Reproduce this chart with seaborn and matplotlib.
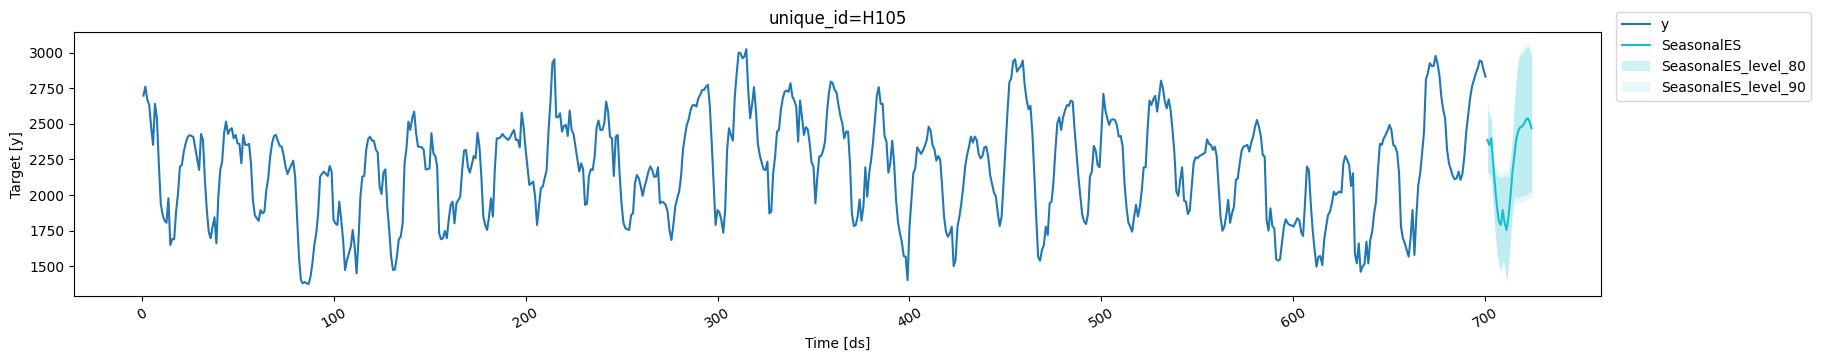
import numpy as np
import pandas as pd
import matplotlib
matplotlib.use('Agg')
import matplotlib.pyplot as plt
import seaborn as sns

# history of series H105 (ds = 1..700)
y_values = [
    2698, 2761, 2668, 2632, 2480, 2352, 2640, 2539, 2223, 1942,
    1860, 1820, 1806, 1977, 1650, 1692, 1690, 1884, 2012, 2200,
    2211, 2305, 2363, 2406, 2420, 2415, 2406, 2328, 2246, 2176,
    2429, 2387, 2106, 1895, 1743, 1697, 1778, 1844, 1661, 1989,
    2176, 2235, 2434, 2515, 2429, 2457, 2469, 2398, 2422, 2363,
    2359, 2223, 2422, 2352, 2352, 2359, 2223, 1966, 1860, 1837,
    1820, 1895, 1872, 1884, 2036, 2118, 2270, 2363, 2415, 2422,
    2380, 2345, 2340, 2281, 2200, 2148, 2181, 2210, 2242, 2129,
    1849, 1568, 1404, 1381, 1390, 1381, 1376, 1427, 1521, 1650,
    1732, 1872, 2129, 2150, 2165, 2148, 2134, 2204, 2165, 1825,
    1802, 1790, 1954, 1825, 1685, 1474, 1544, 1591, 1638, 1755,
    1638, 1451, 1685, 1989, 2129, 2134, 2317, 2391, 2410, 2382,
    2382, 2321, 2298, 2059, 2008, 2157, 2181, 1919, 1755, 1568,
    1474, 1479, 1568, 1690, 1708, 1802, 2223, 2328, 2515, 2457,
    2539, 2586, 2434, 2340, 2338, 2335, 2317, 2181, 2181, 2188,
    2434, 2293, 2274, 2200, 1732, 1690, 1697, 1748, 1697, 1825,
    1931, 1954, 1802, 1942, 1966, 1989, 2176, 2312, 2317, 2200,
    2157, 2211, 2274, 2258, 2438, 2340, 2129, 1849, 1790, 1755,
    1849, 1977, 1849, 2176, 2398, 2398, 2406, 2429, 2410, 2398,
    2387, 2406, 2434, 2457, 2387, 2387, 2335, 2579, 2480, 2328,
    2200, 2071, 2083, 2094, 1989, 1790, 1919, 2048, 2059, 2120,
    2176, 2457, 2656, 2925, 2953, 2546, 2546, 2574, 2445, 2485,
    2492, 2415, 2593, 2457, 2429, 2340, 2246, 2165, 2223, 2181,
    1931, 1938, 2129, 2181, 2176, 2270, 2469, 2523, 2457, 2457,
    2499, 2656, 2586, 2410, 2398, 2134, 2410, 2422, 2153, 1942,
    1806, 1767, 1760, 1755, 1860, 1872, 2083, 2141, 2118, 2064,
    1994, 2059, 2106, 2165, 2200, 2176, 2129, 2129, 2195, 1942,
    1954, 1947, 1931, 1884, 1755, 1685, 1790, 1919, 1977, 2024,
    2129, 2317, 2410, 2492, 2532, 2597, 2630, 2632, 2621, 2679,
    2703, 2738, 2738, 2760, 2773, 2621, 2363, 2083, 1790, 1895,
    1877, 1825, 1736, 1895, 2317, 2469, 2422, 2382, 2691, 2855,
    3000, 2995, 2960, 2972, 3023, 2738, 2539, 2632, 2757, 2597,
    2363, 2281, 2228, 2181, 2176, 2235, 1872, 1884, 2153, 2270,
    2445, 2457, 2597, 2679, 2726, 2733, 2724, 2785, 2691, 2663,
    2621, 2375, 2663, 2551, 2422, 2476, 2462, 2363, 2228, 2200,
    1942, 2129, 2270, 2274, 2312, 2375, 2574, 2714, 2796, 2785,
    2738, 2719, 2632, 2555, 2504, 2398, 2445, 2445, 2223, 1872,
    1783, 1790, 1849, 1970, 1820, 1919, 2195, 1989, 2153, 2246,
    2368, 2527, 2696, 2757, 2640, 2640, 2415, 2375, 2157, 2223,
    2382, 2223, 1966, 1813, 1732, 1673, 1572, 1568, 1404, 1778,
    1966, 2153, 2188, 2335, 2312, 2289, 2312, 2345, 2387, 2480,
    2452, 2352, 2321, 2242, 2274, 2246, 2059, 1849, 1743, 1708,
    1732, 1778, 1502, 1544, 1778, 1849, 1942, 2059, 2200, 2281,
    2340, 2410, 2368, 2410, 2387, 2289, 2258, 2274, 2335, 2340,
    2270, 2141, 2078, 2017, 1989, 1872, 1783, 1849, 2094, 2352,
    2574, 2789, 2820, 2937, 2953, 2866, 2890, 2902, 2944, 2773,
    2668, 2602, 2626, 2434, 2153, 1849, 1568, 1540, 1615, 1650,
    1778, 1720, 1942, 1954, 2094, 2317, 2504, 2546, 2457, 2546,
    2593, 2632, 2626, 2663, 2656, 2457, 2293, 2129, 1989, 1860,
    1813, 1797, 1872, 2129, 2165, 2345, 2312, 2211, 2195, 2457,
    2710, 2597, 2539, 2492, 2527, 2532, 2527, 2492, 2410, 2415,
    2345, 2083, 1919, 1806, 1778, 1743, 1849, 1931, 1849, 1919,
    2036, 2195, 2195, 2457, 2663, 2632, 2672, 2696, 2586, 2691,
    2803, 2750, 2656, 2609, 2672, 2597, 2457, 2293, 2024, 1994,
    2106, 2195, 1961, 1954, 1867, 1895, 2059, 2223, 2265, 2258,
    2274, 2281, 2289, 2298, 2391, 2359, 2352, 2317, 2340, 2274,
    2059, 1849, 1750, 1778, 1860, 1966, 1806, 1872, 1919, 2106,
    2118, 2223, 2312, 2340, 2345, 2352, 2305, 2368, 2410, 2480,
    2527, 2480, 2415, 2281, 2270, 1825, 1750, 1907, 1783, 1767,
    1549, 1540, 1549, 1661, 1778, 1830, 1802, 1790, 1788, 1778,
    1806, 1837, 1825, 1743, 1713, 1942, 2200, 2176, 1942, 1755,
    1615, 1498, 1568, 1572, 1509, 1685, 1778, 1860, 1884, 1942,
    2024, 2001, 2017, 2024, 2017, 2223, 2274, 2246, 2211, 2064,
    2153, 1587, 1521, 1661, 1462, 1498, 1516, 1673, 1521, 1685,
    1743, 1872, 1954, 2176, 2359, 2352, 2398, 2422, 2452, 2492,
    2457, 2352, 2340, 2298, 2153, 1778, 1697, 1661, 1615, 1568,
    1697, 1895, 1580, 1849, 2071, 2153, 2293, 2445, 2813, 2855,
    2925, 2906, 2906, 2976, 2925, 2843, 2691, 2597, 2539, 2317,
    2223, 2176, 2134, 2111, 2118, 2165, 2106, 2148, 2270, 2445,
    2562, 2679, 2761, 2808, 2855, 2890, 2944, 2937, 2878, 2831,
]

# SeasonalES forecast, 24 steps after the history
fc_values = [2387, 2352, 2398, 2223, 2059, 1919, 1813, 1790, 1895, 1802, 1755, 1849,
             1989, 2153, 2270, 2387, 2445, 2476, 2480, 2499, 2527, 2539, 2515, 2469]
lo_80 = [2165, 2153, 2129, 1942, 1755, 1615, 1521, 1486, 1544, 1521, 1400, 1521,
         1708, 1895, 1989, 1989, 1977, 1989, 1994, 2001, 2001, 2012, 2024, 2017]
hi_80 = [2609, 2551, 2532, 2270, 2153, 2141, 2129, 2118, 2129, 2141, 2129, 2129,
         2223, 2387, 2597, 2808, 2925, 2972, 2991, 3007, 3030, 3042, 3014, 2972]
lo_90 = [2125, 2110, 2090, 1900, 1715, 1575, 1480, 1445, 1505, 1480, 1380, 1480,
         1670, 1850, 1950, 1950, 1940, 1950, 1955, 1960, 1962, 1972, 1984, 1977]
hi_90 = [2655, 2595, 2575, 2310, 2195, 2183, 2170, 2160, 2170, 2180, 2170, 2170,
         2265, 2430, 2640, 2850, 2965, 3012, 3030, 3045, 3057, 3059, 3050, 3010]

y_color = '#1f77b4'
fc_color = '#17becf'

hist = pd.DataFrame({'ds': np.arange(1, len(y_values) + 1), 'y': y_values})
fc = pd.DataFrame({'ds': np.arange(len(y_values) + 1, len(y_values) + 1 + len(fc_values)),
                   'SeasonalES': fc_values,
                   'lo-80': lo_80, 'hi-80': hi_80, 'lo-90': lo_90, 'hi-90': hi_90})

fig, ax = plt.subplots(figsize=(18.33, 3.61), dpi=100)
fig.subplots_adjust(left=0.0404, right=0.8734, top=0.911, bottom=0.18)

sns.lineplot(data=hist, x='ds', y='y', ax=ax, color=y_color, label='y', legend=False)
sns.lineplot(data=fc, x='ds', y='SeasonalES', ax=ax, color=fc_color, label='SeasonalES', legend=False)
ax.fill_between(fc['ds'], fc['lo-80'], fc['hi-80'], color=fc_color, alpha=0.2,
                linewidth=0, label='SeasonalES_level_80')
ax.fill_between(fc['ds'], fc['lo-90'], fc['hi-90'], color=fc_color, alpha=0.1,
                linewidth=0, label='SeasonalES_level_90')

ax.set_title('unique_id=H105')
ax.set_xlabel('Time [ds]')
ax.set_ylabel('Target [y]')
ax.set_yticks([1500, 1750, 2000, 2250, 2500, 2750, 3000])
ax.tick_params(axis='x', labelrotation=30)

handles, labels = ax.get_legend_handles_labels()
fig.legend(handles, labels, loc='upper left', bbox_to_anchor=(0.878, 0.985))

fig.savefig('out.png', dpi=100)
